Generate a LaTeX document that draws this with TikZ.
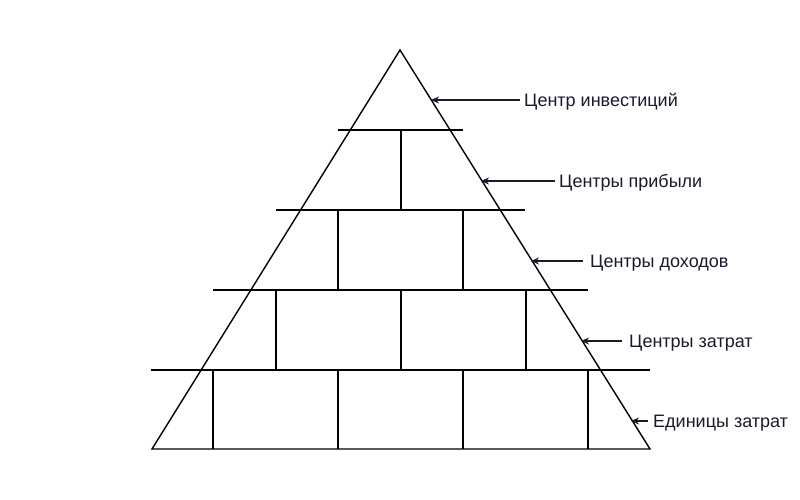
\documentclass[tikz,border=0pt]{standalone}
\usepackage{fontspec}
\setmainfont{Liberation Sans}
\usetikzlibrary{arrows.meta}
\definecolor{ink}{HTML}{1A1A2E}
\begin{document}
\begin{tikzpicture}[x=1pt,y=-1pt,
  ln/.style={draw=black,line width=1.4pt},
  lab/.style={anchor=west,inner sep=0pt,font=\fontsize{18}{21}\selectfont,text=ink},
  arr/.style={draw=ink,line width=1.3pt,-{Stealth[length=8pt,width=7pt]}}]
\useasboundingbox (0,0) rectangle (800,500);
\coordinate (apex) at (400,50);
\coordinate (bl) at (152,449);
\coordinate (br) at (650,449);
\draw[ln,line join=miter] (bl) -- (apex) -- (br) -- cycle;
\draw[ln] (338,130) -- (463,130);
\draw[ln] (276,210) -- (525,210);
\draw[ln] (213,290) -- (588,290);
\draw[ln] (151,370) -- (650,370);
\draw[ln] (401,130) -- (401,210);
\foreach \x in {338,463} \draw[ln] (\x,210) -- (\x,290);
\foreach \x in {276,401,526} \draw[ln] (\x,290) -- (\x,370);
\foreach \x in {213,338,463,588} \draw[ln] (\x,370) -- (\x,449);
\node[lab] (t1) at (524,102) {Центр инвестиций};
\node[lab] (t2) at (559,183) {Центры прибыли};
\node[lab] (t3) at (590,263) {Центры доходов};
\node[lab] (t4) at (629,343) {Центры затрат};
\node[lab] (t5) at (653,423) {Единицы затрат};
\coordinate (e1) at (431,100);
\coordinate (e2) at (481,181);
\coordinate (e3) at (531,261);
\coordinate (e4) at (581,341);
\coordinate (e5) at (631,421);
\draw[arr] (520,100) -- (e1);
\draw[arr] (555,181) -- (e2);
\draw[arr] (583,261) -- (e3);
\draw[arr] (622,341) -- (e4);
\draw[arr] (648,421) -- (e5);
\end{tikzpicture}
\end{document}
